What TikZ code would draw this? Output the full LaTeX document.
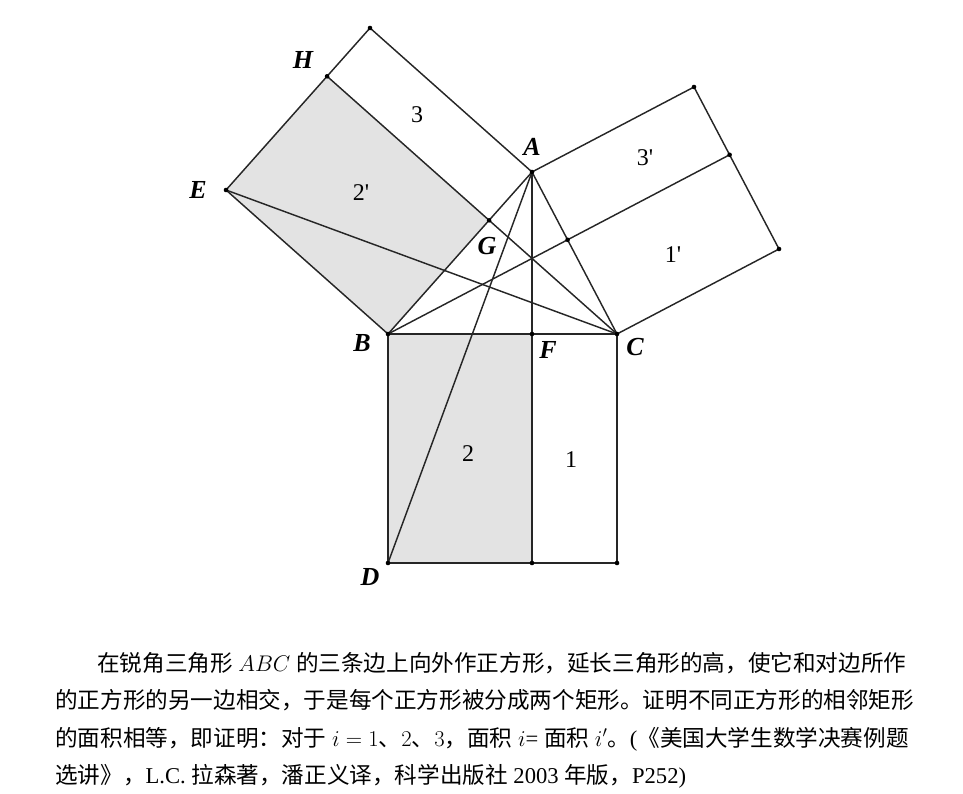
\RequirePackage{fix-cm}
\documentclass[tikz,border=0pt]{standalone}
\usepackage{fontspec}
\setmainfont{Liberation Serif}
\newfontfamily\cjk{Noto Sans CJK SC}

\begin{document}
\begin{tikzpicture}[x=1pt, y=-1pt,
    edge/.style={draw=black!85, line width=1.45pt},
    shaded/.style={fill=black!11},
    ptlabel/.style={font=\fontsize{26}{26}\selectfont\bfseries\itshape},
    arealabel/.style={font=\fontsize{24}{24}\selectfont},
    caption/.style={anchor=base west, inner sep=0pt, font=\fontsize{22.6}{38}\selectfont}
]
\useasboundingbox (0,0) rectangle (963,794);

% Triangle
\coordinate (A) at (532,172);
\coordinate (B) at (388,334);
\coordinate (C) at (617,334);

% Square on BC
\coordinate (D) at (388,563);
\coordinate (K) at (617,563);
\coordinate (F) at (532,334);
\coordinate (L) at (532,563);

% Square on AB
\coordinate (E) at (226,190);
\coordinate (P) at (370,28);
\coordinate (G) at (489.1,220.3);
\coordinate (H) at (327.1,76.3);

% Square on AC
\coordinate (Q) at (779,249);
\coordinate (R) at (694,87);
\coordinate (M) at (567.6,239.8);
\coordinate (N) at (729.6,154.8);

% Grey rectangles
\fill[shaded] (B) -- (F) -- (L) -- (D) -- cycle;
\fill[shaded] (B) -- (G) -- (H) -- (E) -- cycle;

% Squares and their dividing lines
\draw[edge] (B) -- (C) -- (K) -- (D) -- cycle;
\draw[edge] (B) -- (A) -- (P) -- (E) -- cycle;
\draw[edge] (A) -- (C) -- (Q) -- (R) -- cycle;
\draw[edge] (F) -- (L);
\draw[edge] (A) -- (F);

% Other lines
\draw[edge] (C) -- (H);
\draw[edge] (B) -- (N);
\draw[edge] (A) -- (D);
\draw[edge] (E) -- (C);

% Points
\foreach \p in {A,B,C,D,E,F,G,H,K,L,M,N,P,Q,R}
    \fill (\p) circle (2.3pt);

% Point labels
\node[ptlabel] (lH) at (303,60) {H};
\node[ptlabel] (lE) at (198,190) {E};
\node[ptlabel] (lA) at (532,147) {A};
\node[ptlabel] (lG) at (487,246) {G};
\node[ptlabel] (lB) at (362,343) {B};
\node[ptlabel] (lF) at (548,350) {F};
\node[ptlabel] (lC) at (635,347) {C};
\node[ptlabel] (lD) at (370,577) {D};

% Area labels
\node[arealabel] (a3) at (417,115) {3};
\node[arealabel] (a2p) at (361,193) {2\textquotesingle};
\node[arealabel] (a3p) at (645,158) {3\textquotesingle};
\node[arealabel] (a1p) at (673,255) {1\textquotesingle};
\node[arealabel] (a2) at (468,454) {2};
\node[arealabel] (a1) at (571,460) {1};

% Caption
\node[caption] (t1) at (97,671) {{\cjk 在锐角三角形} $ABC$ {\cjk 的三条边上向外作正方形，延长三角形的高，使它和对边所作}};
\node[caption] (t2) at (55,708) {{\cjk 的正方形的另一边相交，于是每个正方形被分成两个矩形。证明不同正方形的相邻矩形}};
\node[caption] (t3) at (55,746) {{\cjk 的面积相等，即证明：对于} $i=1${\cjk 、}$2${\cjk 、}$3${\cjk ，面积} $i$= {\cjk 面积} $i'${\cjk 。}({\cjk 《美国大学生数学决赛例题}};
\node[caption] (t4) at (55,783) {{\cjk 选讲》，}L.C. {\cjk 拉森著，潘正义译，科学出版社} 2003 {\cjk 年版，}P252)};

\end{tikzpicture}
\end{document}
